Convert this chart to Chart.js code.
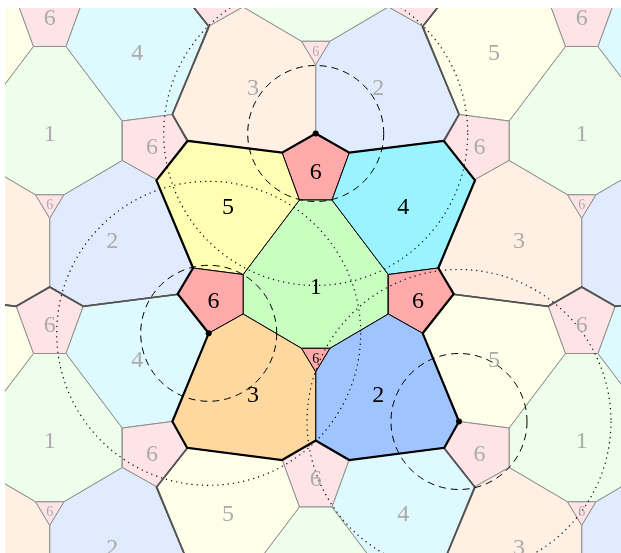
<!DOCTYPE html>
<html><head><meta charset="utf-8">
<script src="https://cdn.jsdelivr.net/npm/chart.js@4.4.1/dist/chart.umd.min.js"></script>
<style>html,body{margin:0;padding:0;background:#fff}canvas{display:block}</style>
</head><body>
<canvas id="c" width="621" height="553"></canvas>
<script>
// ---- data (picture coordinates) ----
const tileNames = ['6','1','4','5','6','6','6','2','3'];
const tile6Top   = [[315.7,133.5],[349.3,152.7],[332,200],[299.4,200],[282.1,152.7]];
const tile1      = [[299.4,200],[332,200],[388.3,274.5],[388.3,314],[330,348.3],[301.4,348.3],[243.1,314],[243.1,274.5]];
const tile4      = [[349.3,152.7],[443.7,140.8],[475,180.3],[438.3,268],[388.3,274.5],[332,200]];
const tile5      = [[282.1,152.7],[187.7,140.8],[156.4,180.3],[193.1,268],[243.1,274.5],[299.4,200]];
const tile6Right = [[388.3,274.5],[438.3,268],[453.7,294],[422.7,333.3],[388.3,314]];
const tile6Left  = [[243.1,274.5],[193.1,268],[177.7,294],[208.7,333.3],[243.1,314]];
const tile6Small = [[301.4,348.3],[330,348.3],[315.7,372]];
const tile2      = [[330,348.3],[388.3,314],[422.7,333.3],[459,421.5],[444.3,447.8],[349.3,460],[315.7,440.5],[315.7,372]];
const tile3      = [[301.4,348.3],[243.1,314],[208.7,333.3],[172.4,421.5],[187.1,447.8],[282.1,460],[315.7,440.5],[315.7,372]];
const tilePolys  = [tile6Top, tile1, tile4, tile5, tile6Right, tile6Left, tile6Small, tile2, tile3];
const labelPos   = [[315.7,170],[315.7,285.7],[403.3,205],[228,205],[418,299],[213.4,299],[315.7,357.5],[378.3,393.3],[253,393.3]];
const smallLabel = [false,false,false,false,false,false,true,false,false];
const domainOutline = [[187.7,140.8],[282.1,152.7],[315.7,133.5],[349.3,152.7],[443.7,140.8],[475,180.3],[438.3,268],[453.7,294],[422.7,333.3],[459,421.5],[444.3,447.8],[349.3,460],[315.7,440.5],[282.1,460],[187.1,447.8],[172.4,421.5],[208.7,333.3],[177.7,294],[193.1,268],[156.4,180.3],[187.7,140.8]];
const latticeA = [266,153.5];
const latticeB = [0,307];
const markedPoints = [[315.7,133.5],[208.7,333.3],[459,421.5]];
const dashedRadii = [68,68,68];
const dottedRadii = [152,152,152];

const mainColors  = {'1':'#C8FFC0','2':'#A0C4FF','3':'#FFD8A0','4':'#9AF4FF','5':'#FFFFB4','6':'#FFAAAA'};
const fadedColors = {'1':'#EDFFEA','2':'#E1EBFE','3':'#FFF0E3','4':'#DFFAFF','5':'#FEFFE8','6':'#FFE4E6'};

// ---- build datasets ----
const shifts = [];
for (let m=-1;m<=1;m++) for (let n=-2;n<=2;n++) {
  if (m===0 && n===0) continue;
  shifts.push([m*latticeA[0]+n*latticeB[0], m*latticeA[1]+n*latticeB[1]]);
}
const toPts = (poly, s) => {
  const pts = poly.map(p => ({x:p[0]+s[0], y:p[1]+s[1]}));
  if (poly[0][0]!==poly[poly.length-1][0] || poly[0][1]!==poly[poly.length-1][1]) pts.push({...pts[0]});
  return pts;
};
const layers = [];
shifts.forEach(s => tilePolys.forEach((poly,i) => layers.push({
  data: toPts(poly,s), showLine:true, fill:'shape', backgroundColor: fadedColors[tileNames[i]],
  borderColor:'#8e8e8e', borderWidth:1, pointRadius:0, pointHoverRadius:0, tension:0
})));
shifts.forEach(s => layers.push({
  data: toPts(domainOutline,s), showLine:true, fill:false, borderColor:'#555555', borderWidth:1.6, pointRadius:0, pointHoverRadius:0, tension:0
}));
tilePolys.forEach((poly,i) => layers.push({
  data: toPts(poly,[0,0]), showLine:true, fill:'shape', backgroundColor: mainColors[tileNames[i]],
  borderColor:'#000', borderWidth:1, pointRadius:0, pointHoverRadius:0, tension:0
}));
layers.push({data: toPts(domainOutline,[0,0]), showLine:true, fill:false, borderColor:'#000', borderWidth:2.2, pointRadius:0, pointHoverRadius:0, tension:0});
layers.push({data: markedPoints.map(p=>({x:p[0],y:p[1]})), showLine:false, pointRadius:3, pointHoverRadius:3, pointBackgroundColor:'#000', pointBorderWidth:0});
layers.forEach((d,i) => { d.order = layers.length - i; });

const overlayPlugin = {
  id:'overlay',
  afterDatasetsDraw(chart) {
    const {ctx, chartArea:a, scales:{x,y}} = chart;
    ctx.save();
    ctx.beginPath(); ctx.rect(a.left,a.top,a.right-a.left,a.bottom-a.top); ctx.clip();
    markedPoints.forEach((c,i) => {
      const cx = x.getPixelForValue(c[0]), cy = y.getPixelForValue(c[1]);
      const rd = x.getPixelForValue(c[0]+dashedRadii[i]) - cx;
      const rt = x.getPixelForValue(c[0]+dottedRadii[i]) - cx;
      ctx.strokeStyle = '#000'; ctx.lineWidth = 1;
      ctx.setLineDash([7,5]); ctx.beginPath(); ctx.arc(cx,cy,rd,0,Math.PI*2); ctx.stroke();
      ctx.setLineDash([1.2,4]); ctx.lineWidth = 1.2; ctx.beginPath(); ctx.arc(cx,cy,rt,0,Math.PI*2); ctx.stroke();
    });
    ctx.setLineDash([]);
    ctx.textAlign = 'center'; ctx.textBaseline = 'alphabetic';
    const drawLabels = (s, color) => {
      ctx.fillStyle = color;
      tileNames.forEach((t,i) => {
        const small = smallLabel[i];
        ctx.font = (small ? '14px' : '24px') + ' "Liberation Serif", "DejaVu Serif", serif';
        const px = x.getPixelForValue(labelPos[i][0]+s[0]);
        const py = y.getPixelForValue(labelPos[i][1]+s[1]) + (small ? 5 : 8.5);
        ctx.fillText(t, px, py);
      });
    };
    shifts.forEach(s => drawLabels(s, '#ababab'));
    drawLabels([0,0], '#000');
    ctx.restore();
  }
};

new Chart(document.getElementById('c'), {
  type:'scatter',
  data:{datasets: layers},
  options:{
    responsive:false, animation:false, events:[],
    layout:{autoPadding:false, padding:{left:5, top:8, right:0, bottom:0}},
    plugins:{legend:{display:false}, tooltip:{enabled:false}},
    scales:{
      x:{type:'linear', min:5, max:621, display:false},
      y:{type:'linear', min:8, max:553, reverse:true, display:false}
    }
  },
  plugins:[overlayPlugin]
});
</script>
</body></html>
